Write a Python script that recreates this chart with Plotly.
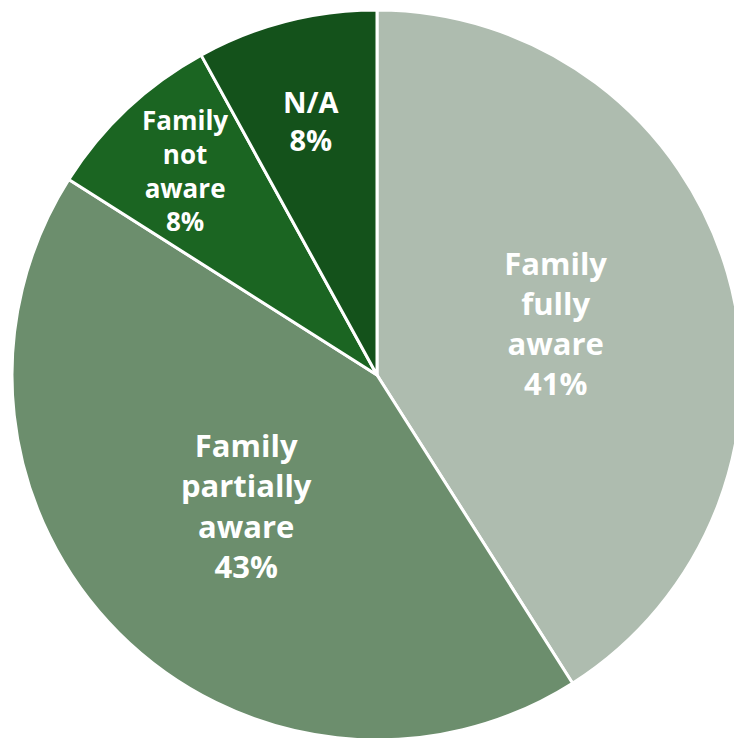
import math
import plotly.graph_objects as go

categories = ["Family fully aware", "Family partially aware", "Family not aware", "N/A"]
display_labels = ["Family<br>fully<br>aware", "Family<br>partially<br>aware", "Family<br>not<br>aware", "N/A"]
values = [41, 43, 8, 8]
colors = ["#AEBCAF", "#6C8E6D", "#1B6522", "#14521B"]
font_sizes = [31, 31, 26, 29]

W, H = 742, 738
# page body has an 8px offset; place the pie so it lands at the reference position
dom_x = [4 / W, 734 / W]
dom_y = [6 / H, 736 / H]

# large slices carry their labels inside; the two thin slices get labels placed
# along their mid-angle (Plotly would otherwise shrink/shift them)
small = [False, False, True, True]
positions = ["none" if s else "inside" for s in small]

fig = go.Figure(go.Pie(
    labels=categories,
    values=values,
    text=display_labels,
    texttemplate="%{text}<br>%{percent:.0%}",
    textposition=positions,
    insidetextorientation="horizontal",
    sort=False,
    direction="clockwise",
    rotation=0,
    marker=dict(colors=colors, line=dict(color="white", width=3)),
    textfont=dict(family="Open Sans", color="white", size=font_sizes, weight="bold"),
    hoverinfo="label+percent",
    showlegend=False,
    domain=dict(x=dom_x, y=dom_y),
))

total = sum(values)
cx = (dom_x[0] + dom_x[1]) / 2 * W
cy = (dom_y[0] + dom_y[1]) / 2 * H
radius = min((dom_x[1] - dom_x[0]) * W, (dom_y[1] - dom_y[0]) * H) / 2
radial_frac = {2: 0.77, 3: 0.72}
cum = 0.0
for i, v in enumerate(values):
    mid = (cum + v / 2) / total * 2 * math.pi
    cum += v
    if not small[i]:
        continue
    r = radius * radial_frac[i]
    x = (cx + r * math.sin(mid)) / W
    y = (cy + r * math.cos(mid)) / H
    pct = round(100 * v / total)
    fig.add_annotation(
        x=x, y=y, xref="paper", yref="paper",
        text=f"{display_labels[i]}<br>{pct}%",
        showarrow=False, xanchor="center", yanchor="middle", align="center",
        font=dict(family="Open Sans", color="white", size=font_sizes[i], weight="bold"),
    )

fig.update_layout(
    width=W, height=H,
    margin=dict(l=0, r=0, t=0, b=0),
    paper_bgcolor="white",
    plot_bgcolor="white",
)
fig.write_html("out.html")
